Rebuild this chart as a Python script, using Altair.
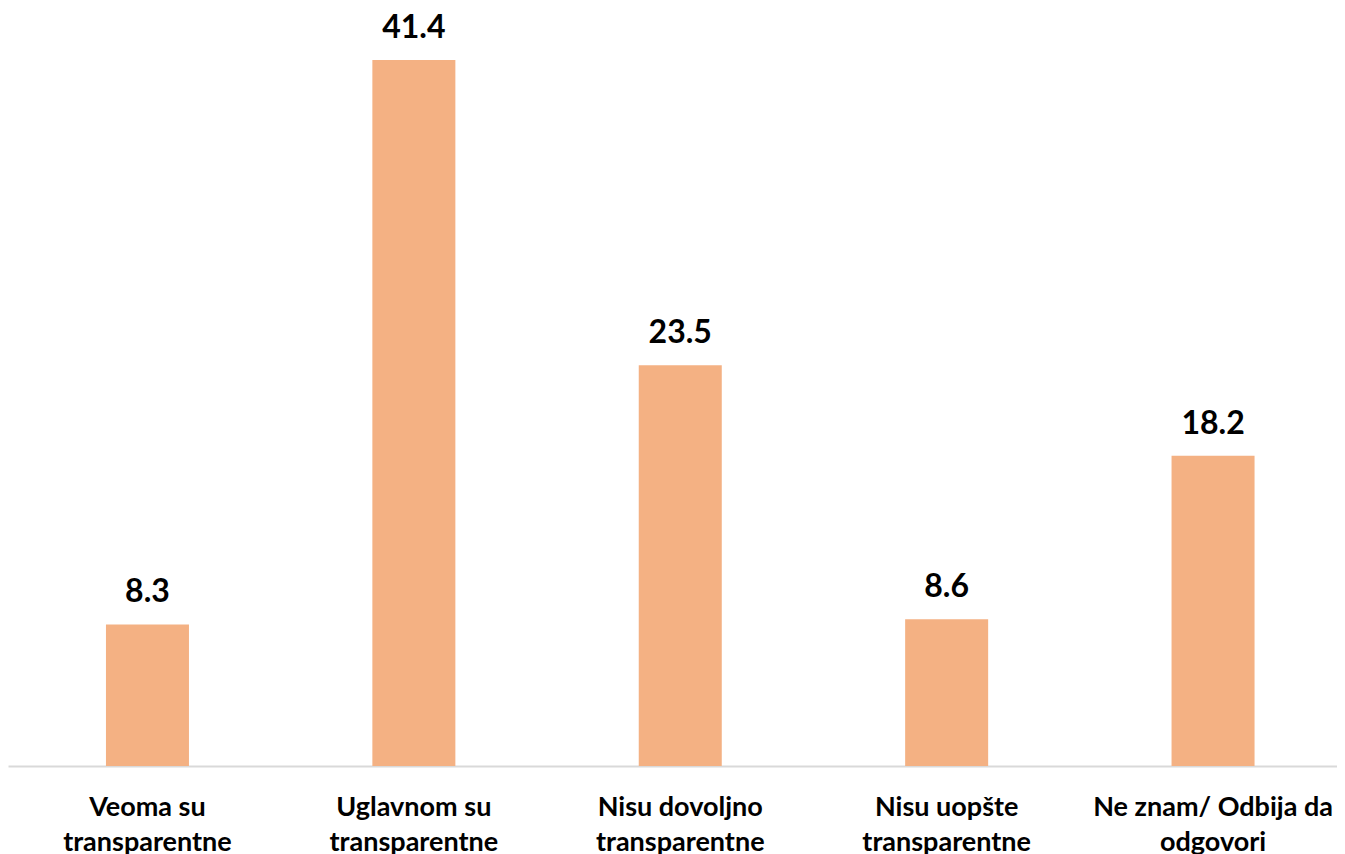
import altair as alt
import pandas as pd

categories = ["Veoma su|transparentne", "Uglavnom su|transparentne", "Nisu dovoljno|transparentne",
              "Nisu uopšte|transparentne", "Ne znam/ Odbija da|odgovori"]
values = [8.3, 41.4, 23.5, 8.6, 18.2]

df = pd.DataFrame({"cat": categories, "val": values})

FONT = "Lato"

x = alt.X("cat:N", sort=None, title=None,
          scale=alt.Scale(paddingInner=0.6884, paddingOuter=0.3386, align=0.543),
          axis=alt.Axis(labelExpr="split(datum.label, '|')", labelAngle=0,
                        labelFont=FONT, labelFontSize=27, labelFontWeight="bold",
                        labelColor="#000000", labelLineHeight=35, labelPadding=28,
                        ticks=False, domainColor="#d9d9d9", domainWidth=2,
                        labelLimit=400))
y = alt.Y("val:Q", title=None, scale=alt.Scale(domain=[0, 44.45], nice=False), axis=None)

bars = alt.Chart(df).mark_bar(color="#F4B183").encode(x=x, y=y)
text = alt.Chart(df).mark_text(font=FONT, fontSize=32, fontWeight="bold", color="#000000",
                               baseline="alphabetic", dy=-22).encode(
    x=x, y=y, text=alt.Text("val:Q", format=".1f"))

chart = (bars + text).properties(
    width=1329, height=758,
    padding={"left": 0, "top": 0, "right": 0, "bottom": 0}
).configure(background="white").configure_view(stroke=None)

chart.save("out.html", embed_options={"renderer": "svg", "actions": False})
